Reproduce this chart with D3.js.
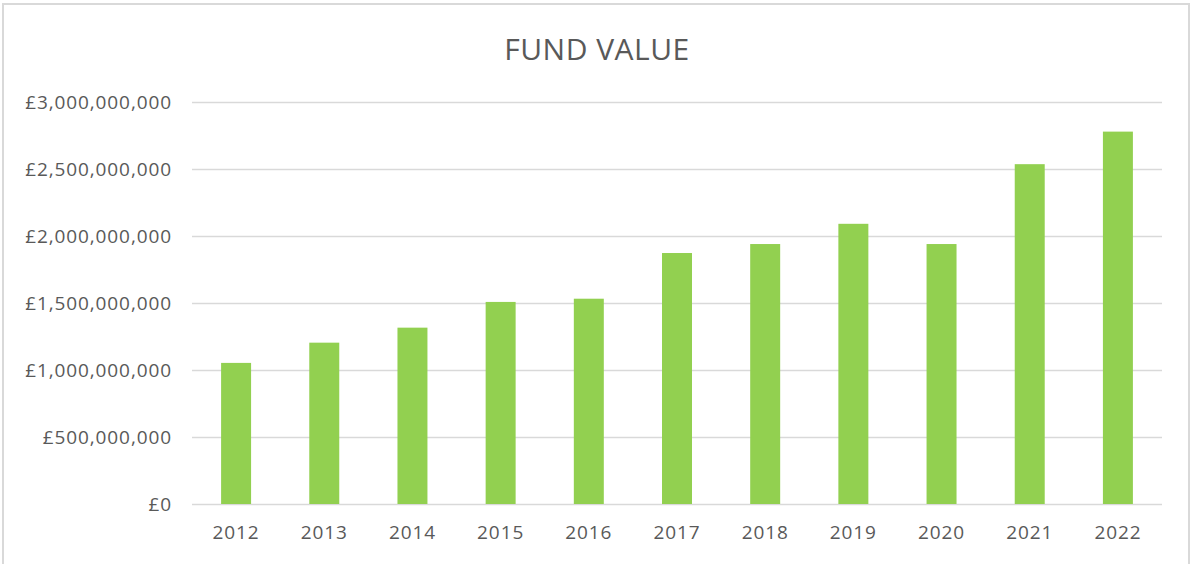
<!DOCTYPE html>
<html>
<head>
<meta charset="utf-8">
<script src="https://cdn.jsdelivr.net/npm/d3@7/dist/d3.min.js"></script>
<style>
  html, body { margin: 0; padding: 0; background: #fff; }
  svg { display: block; }
  text { font-family: "Open Sans", "Noto Sans", sans-serif; fill: #595959; }
</style>
</head>
<body>
<svg id="chart" width="1192" height="564"></svg>
<script>
const title = "FUND VALUE";
const years = ["2012","2013","2014","2015","2016","2017","2018","2019","2020","2021","2022"];
const fundValues = [1053000000, 1204000000, 1316000000, 1508000000, 1532000000, 1873000000, 1940000000, 2091000000, 1940000000, 2536000000, 2779000000];
const yTicks = [0, 500000000, 1000000000, 1500000000, 2000000000, 2500000000, 3000000000];

const svg = d3.select("#chart");
const W = 1192, H = 564;
const m = { left: 192, right: 1162, top: 102, bottom: 504 };

// outer frame
svg.append("rect")
  .attr("x", 3).attr("y", 4)
  .attr("width", 1186).attr("height", H + 4)
  .attr("fill", "#fff").attr("stroke", "#d9d9d9").attr("stroke-width", 2);

const x = d3.scaleBand().domain(years).range([m.left, m.right]).paddingInner(0.66).paddingOuter(0.33);
const y = d3.scaleLinear().domain([0, 3000000000]).range([m.bottom, m.top]);

const fmt = v => "£" + d3.format(",")(v);

// gridlines
const yAxis = d3.axisLeft(y).tickValues(yTicks).tickSize(-(m.right - m.left)).tickPadding(20).tickFormat(fmt);
const gy = svg.append("g").attr("transform", `translate(${m.left},0)`).call(yAxis);
gy.select(".domain").remove();
gy.selectAll(".tick line").attr("stroke", "#d9d9d9").attr("stroke-width", 1.5);
gy.selectAll(".tick text")
  .style("font-size", "19px").style("letter-spacing", "0.9px")
  .attr("fill", "#595959").attr("dy", "0.34em");

// bars
svg.append("g").selectAll("rect")
  .data(years)
  .join("rect")
  .attr("x", d => x(d))
  .attr("width", x.bandwidth())
  .attr("y", (d, i) => y(fundValues[i]))
  .attr("height", (d, i) => y(0) - y(fundValues[i]))
  .attr("fill", "#92d050");

// x axis
const xAxis = d3.axisBottom(x).tickSize(0).tickPadding(22);
const gx = svg.append("g").attr("transform", `translate(0,${m.bottom})`).call(xAxis);
gx.select(".domain").remove();
gx.selectAll(".tick text")
  .style("font-size", "19px").style("letter-spacing", "0.9px")
  .attr("fill", "#595959");

// title
svg.append("text")
  .attr("x", 597).attr("y", 59.5)
  .attr("text-anchor", "middle")
  .style("font-size", "30px").style("letter-spacing", "0.5px")
  .text(title);
</script>
</body>
</html>
